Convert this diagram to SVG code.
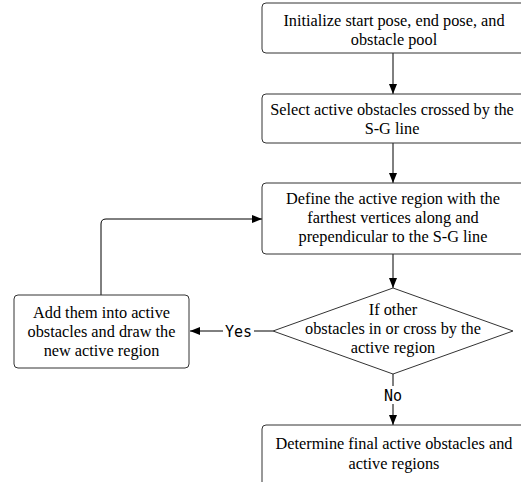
<svg xmlns="http://www.w3.org/2000/svg" width="521" height="482" viewBox="0 0 521 482">
<defs>
<marker id="ah" markerWidth="10" markerHeight="8" refX="10" refY="4" orient="auto" markerUnits="userSpaceOnUse">
<path d="M0,0 L10,4 L0,8 Z" fill="#000"/>
</marker>
<style>
.box{fill:#fff;stroke:#333;stroke-width:1}
.t{font-family:"Liberation Serif","Times New Roman",serif;font-size:16.3px;fill:#000;text-anchor:middle}
.lbl{font-family:"DejaVu Sans Mono","Liberation Mono",monospace;font-size:15px;fill:#000;text-anchor:middle}
.c{fill:none;stroke:#000;stroke-width:1}
</style>
</defs>
<rect width="521" height="482" fill="#fff"/>
<g id="connectors">
<path class="c" d="M393,53 V94" marker-end="url(#ah)"/>
<path class="c" d="M393,143 V183" marker-end="url(#ah)"/>
<path class="c" d="M393,254 V288" marker-end="url(#ah)"/>
<path class="c" d="M273,331 H254 M223,331 H190" marker-end="url(#ah)"/>
<path class="c" d="M101,295 V224 Q101,219 106,219 H262" marker-end="url(#ah)"/>
<path class="c" d="M393,374 V386 M393,404 V425" marker-end="url(#ah)"/>
<text class="lbl" x="238.5" y="337">Yes</text>
<text class="lbl" x="393" y="401">No</text>
</g>
<g id="n1">
<rect class="box" x="262" y="3" width="266" height="50" rx="4"/>
<text class="t" x="394" y="26">Initialize start pose, end pose, and</text>
<text class="t" x="394" y="45">obstacle pool</text>
</g>
<g id="n2">
<rect class="box" x="262" y="94" width="266" height="49" rx="4"/>
<text class="t" x="392" y="115">Select active obstacles crossed by the</text>
<text class="t" x="392" y="134">S-G line</text>
</g>
<g id="n3">
<rect class="box" x="262" y="183" width="266" height="71" rx="4"/>
<text class="t" x="393" y="204">Define the active region with the</text>
<text class="t" x="393" y="223">farthest vertices along and</text>
<text class="t" x="393" y="242">prependicular to the S-G line</text>
</g>
<g id="n4">
<path class="box" d="M393,288 L513,331 L393,374 L273,331 Z"/>
<text class="t" x="393" y="315">If other</text>
<text class="t" x="393" y="334">obstacles in or cross by the</text>
<text class="t" x="393" y="353">active region</text>
</g>
<g id="n5">
<rect class="box" x="14" y="295" width="175" height="73" rx="4"/>
<text class="t" x="101.5" y="318">Add them into active</text>
<text class="t" x="101.5" y="337">obstacles and draw the</text>
<text class="t" x="101.5" y="356">new active region</text>
</g>
<g id="n6">
<rect class="box" x="262" y="425" width="266" height="80" rx="4"/>
<text class="t" x="394" y="449">Determine final active obstacles and</text>
<text class="t" x="394" y="469">active regions</text>
</g>
</svg>
